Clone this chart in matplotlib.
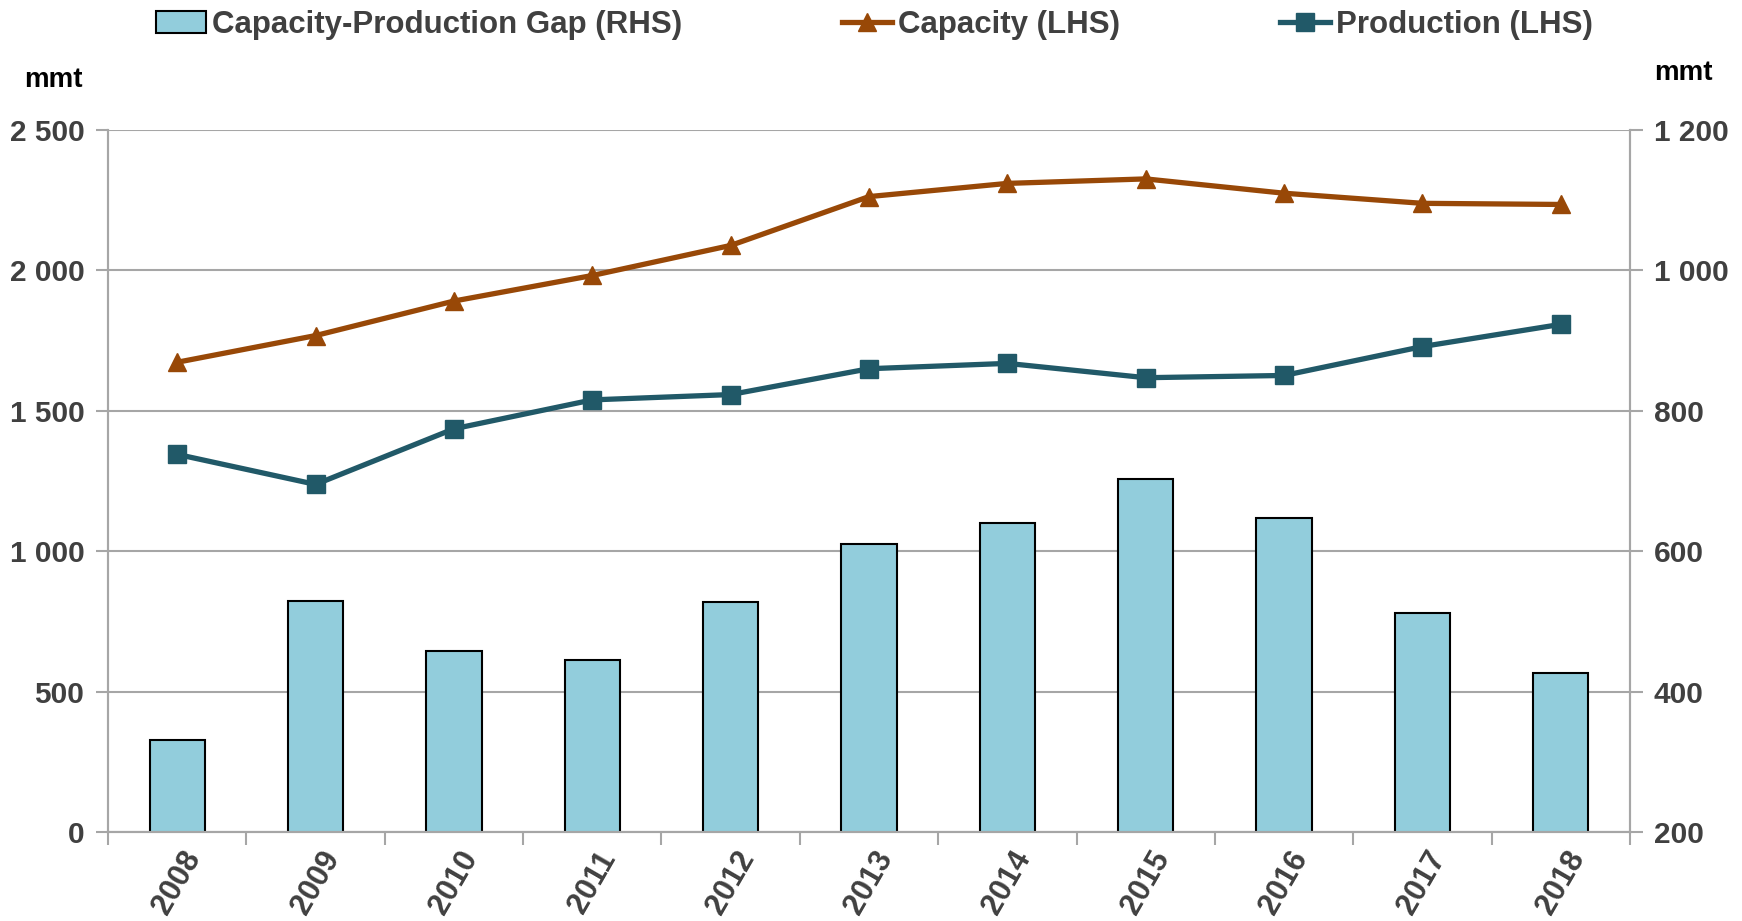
import matplotlib.pyplot as plt
from matplotlib.patches import Patch
from matplotlib.lines import Line2D
import numpy as np

years = ["2008", "2009", "2010", "2011", "2012", "2013",
         "2014", "2015", "2016", "2017", "2018"]
capacity = [1673, 1768, 1891, 1982, 2089, 2263, 2310, 2326, 2275, 2239, 2235]
production = [1345, 1238, 1436, 1539, 1558, 1650, 1669, 1618, 1626, 1729, 1808]
gap = [331, 529, 458, 445, 528, 611, 640, 703, 648, 512, 426]

left_ticks = [0, 500, 1000, 1500, 2000, 2500]
left_labels = ["0", "500", "1 000", "1 500", "2 000", "2 500"]
right_ticks = [200, 400, 600, 800, 1000, 1200]
right_labels = ["200", "400", "600", "800", "1 000", "1 200"]

BAR = "#92CDDC"
CAP = "#984807"
PROD = "#215968"
GRID = "#A6A6A6"
TXT = "#404040"

plt.rcParams["font.family"] = ["Liberation Sans", "DejaVu Sans"]
plt.rcParams["font.weight"] = "bold"

fig = plt.figure(figsize=(17.42, 9.21), dpi=100)
ax_bar = fig.add_axes([0.062, 0.0966, 0.8737, 0.7622])
ax = ax_bar.twinx()

x = np.arange(len(years))

# bars on the right-hand scale
ax_bar.bar(x, gap, width=0.4, color=BAR, edgecolor="black", linewidth=1.5, zorder=2)
ax_bar.set_ylim(200, 1200)
ax_bar.set_yticks(right_ticks)
ax_bar.set_yticklabels(right_labels)
ax_bar.yaxis.tick_right()
ax_bar.grid(axis="y", color=GRID, linewidth=1.5, zorder=0)
ax_bar.set_axisbelow(True)

# lines on the left-hand scale
ax.plot(x, capacity, color=CAP, linewidth=3.8, marker="^", markersize=13)
ax.plot(x, production, color=PROD, linewidth=3.8, marker="s", markersize=13)
ax.set_ylim(0, 2500)
ax.set_yticks(left_ticks)
ax.set_yticklabels(left_labels)
ax.yaxis.tick_left()

ax_bar.set_xlim(-0.5, len(years) - 0.5)
ax_bar.set_xticks(x)
ax_bar.set_xticklabels(years, rotation=60, ha="center", va="top")
ax_bar.set_xticks(np.arange(-0.5, len(years)), minor=True)
ax_bar.tick_params(axis="x", which="major", length=0, pad=10)
ax_bar.tick_params(axis="x", which="minor", length=9, width=1.5, color=GRID)

for a in (ax_bar, ax):
    a.tick_params(axis="y", length=9, width=1.5, color=GRID, labelsize=21.5,
                  labelcolor=TXT, pad=8)
    a.tick_params(axis="x", labelsize=22, labelcolor=TXT)
    a.spines["top"].set_visible(False)
    for s in ("left", "right", "bottom"):
        a.spines[s].set_color(GRID)
        a.spines[s].set_linewidth(1.5)

fig.text(0.014, 0.913, "mmt", fontsize=20, color="black", ha="left", va="center")
fig.text(0.983, 0.921, "mmt", fontsize=20, color="black", ha="right", va="center")

handles = [
    Patch(facecolor=BAR, edgecolor="black", linewidth=1.5),
    Line2D([], [], color=CAP, linewidth=3.8, marker="^", markersize=13),
    Line2D([], [], color=PROD, linewidth=3.8, marker="s", markersize=13),
]
labels = ["Capacity-Production Gap (RHS)", "Capacity (LHS)", "Production (LHS)"]
leg = fig.legend(handles, labels, loc="upper center", bbox_to_anchor=(0.502, 1.02),
                 ncol=3, frameon=False, fontsize=22.5, handlelength=1.6,
                 handletextpad=0.2, columnspacing=5.1)
for t in leg.get_texts():
    t.set_color(TXT)

fig.savefig("out.png", dpi=100)
